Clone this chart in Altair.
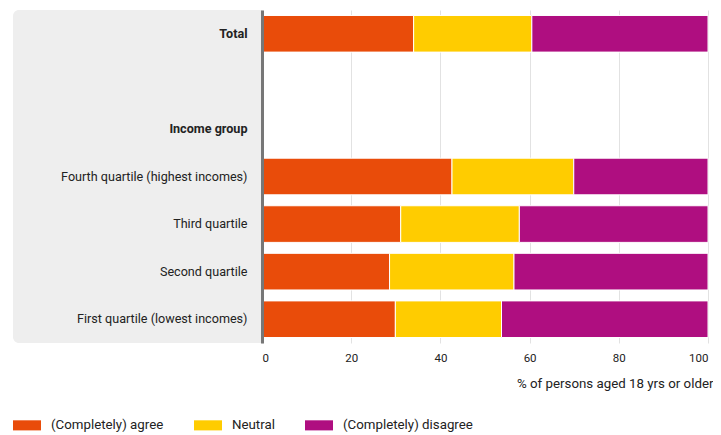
import altair as alt
import pandas as pd

groups = ["Total", " ", "Income group", "Fourth quartile (highest incomes)",
          "Third quartile", "Second quartile", "First quartile (lowest incomes)"]
bar_groups = ["Total", "Fourth quartile (highest incomes)", "Third quartile",
              "Second quartile", "First quartile (lowest incomes)"]
answers = ["(Completely) agree", "Neutral", "(Completely) disagree"]
agree = [34.0, 42.6, 31.1, 28.6, 29.9]
neutral = [26.5, 27.3, 26.6, 27.9, 23.8]
disagree = [39.5, 30.1, 42.3, 43.5, 46.3]
colors = ["#e94c0a", "#ffcc00", "#af0e80"]
x_ticks = [0, 20, 40, 60, 80, 100]

rows = []
for i, g in enumerate(bar_groups):
    for k, (a, vals) in enumerate(zip(answers, [agree, neutral, disagree])):
        rows.append({"group": g, "answer": a, "value": vals[i], "order": k})
df = pd.DataFrame(rows)

FONT = "Roboto"
W, H = 446, 333

bg = alt.Chart(pd.DataFrame({"a": [0]})).mark_rect(
    color="#eeeeee", cornerRadiusTopLeft=6, cornerRadiusBottomLeft=6
).encode(x=alt.value(-249), x2=alt.value(0), y=alt.value(0), y2=alt.value(H))

bars = alt.Chart(df).mark_bar(stroke="white", strokeWidth=1).encode(
    y=alt.Y("group:N", scale=alt.Scale(domain=groups, paddingInner=0.23, paddingOuter=0.115),
            axis=alt.Axis(title=None, ticks=False, domainColor="#777777", domainWidth=3,
                          labelPadding=15, labelFontSize=12.6, labelColor="#222222",
                          labelFont=FONT, zindex=1, labelLimit=300,
                          labelFontWeight=alt.ExprRef(
                              "indexof(['Total','Income group'], datum.label) >= 0 ? 'bold' : 'normal'"))),
    x=alt.X("value:Q", stack="zero", scale=alt.Scale(domain=[0, 100], nice=False),
            axis=alt.Axis(values=x_ticks, title="% of persons aged 18 yrs or older",
                          titleAnchor="end", titleX=W + 5, titleAlign="right",
                          titleFontWeight="normal", titleFontSize=13.3, titleFont=FONT,
                          titleColor="#222222", titlePadding=13,
                          domain=False, ticks=False, labelPadding=9, labelFontSize=11.5,
                          labelFont=FONT, labelColor="#222222", grid=True, gridColor="#e2e2e2")),
    color=alt.Color("answer:N", scale=alt.Scale(domain=answers, range=colors),
                    legend=alt.Legend(orient="none", legendX=-249, legendY=401, direction="horizontal",
                                      columns=3, title=None,
                                      symbolType="M-1,-0.36L1,-0.36L1,0.36L-1,0.36Z",
                                      symbolSize=784, symbolStrokeWidth=0, symbolOpacity=1,
                                      labelOffset=10, columnPadding=30, labelFontSize=13.3,
                                      labelFont=FONT, labelColor="#222222")),
    order=alt.Order("order:Q"),
)

chart = alt.layer(bg, bars).properties(
    width=W, height=H, padding={"left": 5, "top": 2, "right": 0, "bottom": 0}
).configure_view(stroke=None)

chart.save("out.html", embed_options={"renderer": "svg", "actions": False})
